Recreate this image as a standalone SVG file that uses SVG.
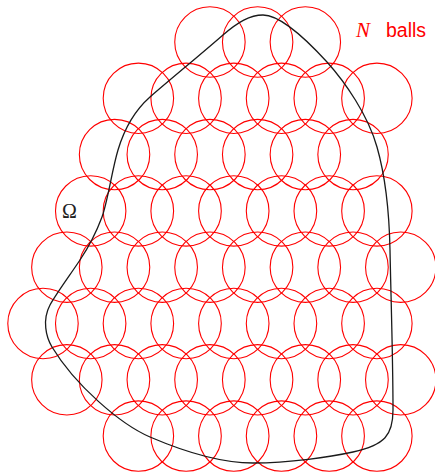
<svg xmlns="http://www.w3.org/2000/svg" width="435" height="473" viewBox="0 0 435 473">
<style>
.b{fill:none;stroke:#ff0000;stroke-width:1.1}
.dom{fill:none;stroke:#1a1a1a;stroke-width:1.3}
.lr{fill:#ff0000}
</style>
<rect width="435" height="473" fill="#ffffff"/>
<g id="balls">
<circle class="b" cx="209.95" cy="42" r="35.2"/><circle class="b" cx="257.65" cy="42" r="35.2"/><circle class="b" cx="305.35" cy="42" r="35.2"/>
<circle class="b" cx="138.4" cy="98.3" r="35.2"/><circle class="b" cx="186.1" cy="98.3" r="35.2"/><circle class="b" cx="233.8" cy="98.3" r="35.2"/><circle class="b" cx="281.5" cy="98.3" r="35.2"/><circle class="b" cx="329.2" cy="98.3" r="35.2"/><circle class="b" cx="376.9" cy="98.3" r="35.2"/>
<circle class="b" cx="114.55" cy="154.6" r="35.2"/><circle class="b" cx="162.25" cy="154.6" r="35.2"/><circle class="b" cx="209.95" cy="154.6" r="35.2"/><circle class="b" cx="257.65" cy="154.6" r="35.2"/><circle class="b" cx="305.35" cy="154.6" r="35.2"/><circle class="b" cx="353.05" cy="154.6" r="35.2"/>
<circle class="b" cx="90.7" cy="210.9" r="35.2"/><circle class="b" cx="138.4" cy="210.9" r="35.2"/><circle class="b" cx="186.1" cy="210.9" r="35.2"/><circle class="b" cx="233.8" cy="210.9" r="35.2"/><circle class="b" cx="281.5" cy="210.9" r="35.2"/><circle class="b" cx="329.2" cy="210.9" r="35.2"/><circle class="b" cx="376.9" cy="210.9" r="35.2"/>
<circle class="b" cx="66.85" cy="267.2" r="35.2"/><circle class="b" cx="114.55" cy="267.2" r="35.2"/><circle class="b" cx="162.25" cy="267.2" r="35.2"/><circle class="b" cx="209.95" cy="267.2" r="35.2"/><circle class="b" cx="257.65" cy="267.2" r="35.2"/><circle class="b" cx="305.35" cy="267.2" r="35.2"/><circle class="b" cx="353.05" cy="267.2" r="35.2"/><circle class="b" cx="400.75" cy="267.2" r="35.2"/>
<circle class="b" cx="43" cy="323.5" r="35.2"/><circle class="b" cx="90.7" cy="323.5" r="35.2"/><circle class="b" cx="138.4" cy="323.5" r="35.2"/><circle class="b" cx="186.1" cy="323.5" r="35.2"/><circle class="b" cx="233.8" cy="323.5" r="35.2"/><circle class="b" cx="281.5" cy="323.5" r="35.2"/><circle class="b" cx="329.2" cy="323.5" r="35.2"/><circle class="b" cx="376.9" cy="323.5" r="35.2"/>
<circle class="b" cx="66.85" cy="379.8" r="35.2"/><circle class="b" cx="114.55" cy="379.8" r="35.2"/><circle class="b" cx="162.25" cy="379.8" r="35.2"/><circle class="b" cx="209.95" cy="379.8" r="35.2"/><circle class="b" cx="257.65" cy="379.8" r="35.2"/><circle class="b" cx="305.35" cy="379.8" r="35.2"/><circle class="b" cx="353.05" cy="379.8" r="35.2"/><circle class="b" cx="400.75" cy="379.8" r="35.2"/>
<circle class="b" cx="138.4" cy="436.1" r="35.2"/><circle class="b" cx="186.1" cy="436.1" r="35.2"/><circle class="b" cx="233.8" cy="436.1" r="35.2"/><circle class="b" cx="281.5" cy="436.1" r="35.2"/><circle class="b" cx="329.2" cy="436.1" r="35.2"/><circle class="b" cx="376.9" cy="436.1" r="35.2"/>
</g>
<g id="domain">
<path class="dom" d="M263 15 C280 15 305 38 327 62 C345 82 368 115 377 147 C383 168 389 200 390 250 C391 300 393 360 393 410 C393 435 385 445 353 452 C330 457 290 463 253 463 C220 463 185 452 150 437 C120 424 75 385 52 347 C46 337 42 320 50 305 C56 294 70 275 80 260 C88 248 96 233 102 217 C108 200 112 170 118 150 C124 130 133 112 150 97 C172 78 200 55 223 35 C238 22 250 15 263 15 Z"/>
</g>
<g id="labels">
<text x="356" y="37" class="lr" font-family="'Liberation Serif', serif" font-style="italic" font-size="21">N</text>
<text x="386" y="37" class="lr" font-family="'Liberation Sans', Arial, sans-serif" font-size="19.5">balls</text>
<text x="62" y="218" font-family="'Liberation Serif', serif" font-size="20" fill="#222222">Ω</text>
</g>
</svg>
